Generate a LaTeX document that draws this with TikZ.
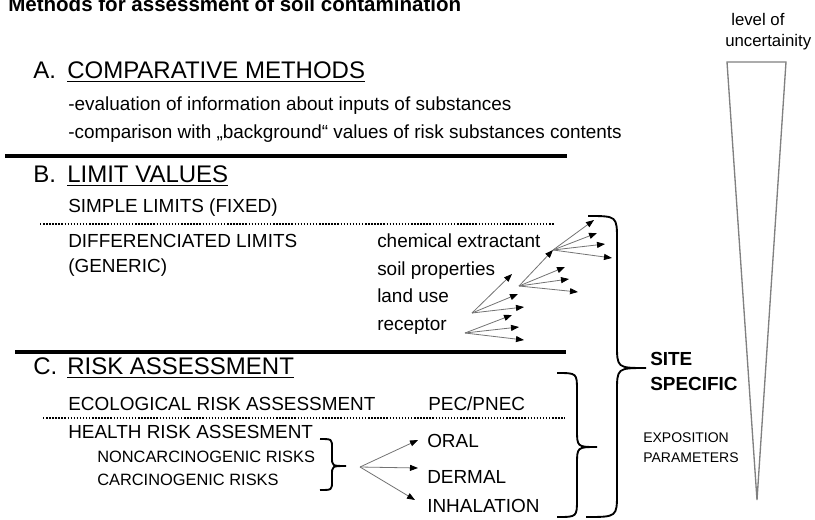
\documentclass[tikz,border=0pt]{standalone}
\usepackage{fontspec}
\setmainfont{Liberation Sans}
\usetikzlibrary{arrows.meta,positioning}
\tikzset{
  hd/.style   = {anchor=base west, inner sep=0pt, font=\fontsize{18}{20}\selectfont},
  txt/.style  = {anchor=base west, inner sep=0pt, font=\fontsize{14.2}{16}\selectfont},
  sml/.style  = {anchor=base west, inner sep=0pt, font=\fontsize{12.3}{14}\selectfont},
  tny/.style  = {anchor=base west, inner sep=0pt, font=\fontsize{10.5}{12}\selectfont},
  rule/.style = {draw=black, line width=3pt},
  dots/.style = {draw=black, line width=1.1pt, dash pattern=on 1.1pt off 1.2pt},
  ul/.style   = {draw=black, line width=0.9pt},
  fan/.style  = {-{Triangle[length=6pt,width=4.5pt,black]}, draw=black!55, line width=0.6pt},
  brc/.style  = {draw=black, line width=1.4pt},
  cone/.style = {draw=black!50, line width=1pt},
}
\begin{document}
\begin{tikzpicture}[x=0.75pt, y=-0.75pt]
  \useasboundingbox (0,0) rectangle (815,519);

  % title
  \node[anchor=base west, inner sep=0pt, font=\fontsize{15.4}{18}\selectfont\bfseries] (title) at (8,11)
    {Methods for assessment of soil contamination};

  % A
  \node[hd] (secA) at (33,78) {A.};
  \node[hd] (hdA) at (67,78) {COMPARATIVE METHODS};
  \draw[ul] ([yshift=-2.5pt]hdA.base west) -- ([yshift=-2.5pt]hdA.base east);
  \node[txt] (evalA) at (68,110) {-evaluation of information about inputs of substances};
  \node[txt] (compA) at (68,138) {-comparison with „background“ values of risk substances contents};
  \draw[rule] (5,156) -- (567,156);

  % B
  \node[hd] (secB) at (33,182) {B.};
  \node[hd] (hdB) at (67,182) {LIMIT VALUES};
  \draw[ul] ([yshift=-2.5pt]hdB.base west) -- ([yshift=-2.5pt]hdB.base east);
  \node[txt] (simple) at (68,212) {SIMPLE LIMITS (FIXED)};
  \draw[dots] (40,224) -- (555,224);
  \node[txt] (diff) at (68,247) {DIFFERENCIATED LIMITS};
  \node[txt] (generic) at (68,272) {(GENERIC)};
  \node[txt] (chem) at (377,247) {chemical extractant};
  \node[txt] (soil) at (377,275) {soil properties};
  \node[txt] (land) at (377,302) {land use};
  \node[txt] (recep) at (377,330) {receptor};

  % arrow fans
  \coordinate (rc) at (465,333);
  \coordinate (r1) at (512,315);
  \coordinate (r2) at (519,327);
  \coordinate (r3) at (524,340);
  \coordinate (lc) at (472,313);
  \coordinate (l1) at (512,274);
  \coordinate (l2) at (518,294);
  \coordinate (l3) at (524,307);
  \coordinate (sc) at (519,286);
  \coordinate (s2) at (565,267);
  \coordinate (s3) at (569,279);
  \coordinate (s4) at (578,292);
  \coordinate (cc) at (553,250);
  \coordinate (c1) at (594,220);
  \coordinate (c2) at (597,233);
  \coordinate (c3) at (605,244);
  \coordinate (c4) at (612,258);
  \draw[fan] (rc) -- (r1); \draw[fan] (rc) -- (r2); \draw[fan] (rc) -- (r3);
  \draw[fan] (lc) -- (l1); \draw[fan] (lc) -- (l2); \draw[fan] (lc) -- (l3);
  \draw[fan] (sc) -- (cc); \draw[fan] (sc) -- (s2); \draw[fan] (sc) -- (s3); \draw[fan] (sc) -- (s4);
  \draw[fan] (cc) -- (c1); \draw[fan] (cc) -- (c2); \draw[fan] (cc) -- (c3); \draw[fan] (cc) -- (c4);

  \draw[rule] (15,352) -- (566,352);

  % C
  \node[hd] (secC) at (33,374) {C.};
  \node[hd] (hdC) at (67,374) {RISK ASSESSMENT};
  \draw[ul] ([yshift=-2.5pt]hdC.base west) -- ([yshift=-2.5pt]hdC.base east);
  \node[txt] (eco) at (68,410) {ECOLOGICAL RISK ASSESSMENT};
  \node[txt] (pec) at (428,410) {PEC/PNEC};
  \draw[dots] (43,418) -- (565,418);
  \node[txt] (health) at (68,438) {HEALTH RISK ASSESMENT};
  \node[sml] (noncarc) at (97,462) {NONCARCINOGENIC RISKS};
  \node[sml] (carc) at (97,485) {CARCINOGENIC RISKS};
  \node[txt] (oral) at (427,447) {ORAL};
  \node[txt] (dermal) at (427,483) {DERMAL};
  \node[txt] (inhal) at (427,512) {INHALATION};
  \coordinate (hf) at (360,467);
  \coordinate (ho) at (418,440);
  \coordinate (hdm) at (418,468);
  \coordinate (hi) at (415,500);
  \draw[fan] (hf) -- (ho); \draw[fan] (hf) -- (hdm); \draw[fan] (hf) -- (hi);

  % braces
  \draw[brc] (320,439) .. controls (332,439) .. (332,448) -- (332,457)
    .. controls (332,466) .. (346,466) .. controls (332,466) .. (332,475) -- (332,481)
    .. controls (332,490) .. (320,490);
  \draw[brc] (557,373) .. controls (577,373) .. (577,391) -- (577,429)
    .. controls (577,447) .. (597,447) .. controls (577,447) .. (577,465) -- (577,499)
    .. controls (577,517) .. (557,517);
  \draw[brc] (588,216) .. controls (617,216) .. (617,240) -- (617,344)
    .. controls (617,368) .. (646,368) .. controls (617,368) .. (617,392) -- (617,493)
    .. controls (617,517) .. (586,517);

  \node[txt, font=\fontsize{14.2}{16}\selectfont\bfseries] (site) at (650,365) {SITE};
  \node[txt, font=\fontsize{14.2}{16}\selectfont\bfseries] (specific) at (650,390) {SPECIFIC};
  \node[tny] (expo) at (643,442) {EXPOSITION};
  \node[tny] (param) at (643,462) {PARAMETERS};

  % uncertainty cone
  \node[anchor=base west, inner sep=0pt, font=\fontsize{12.6}{15}\selectfont] (level) at (731,25) {level of};
  \node[anchor=base west, inner sep=0pt, font=\fontsize{12.6}{15}\selectfont] (uncert) at (725,46) {uncertainity};
  \draw[cone] (727,62) -- (786,62) -- (757,500) -- cycle;
\end{tikzpicture}
\end{document}
